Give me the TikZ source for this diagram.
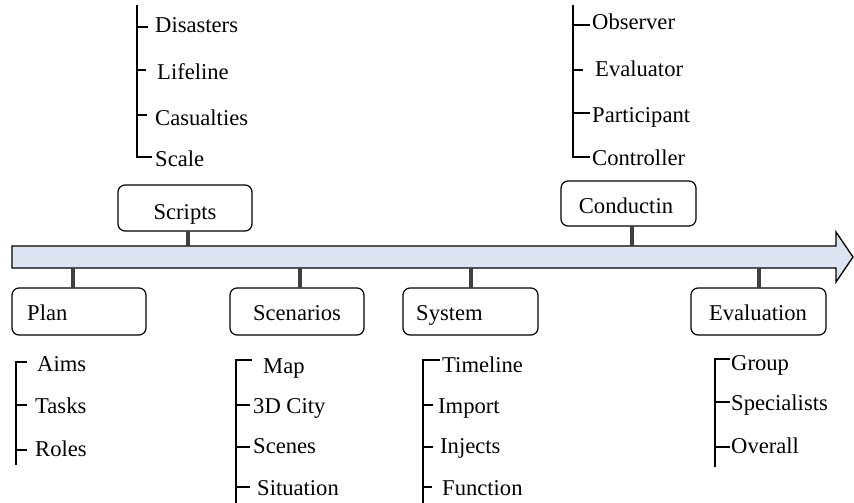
\documentclass[tikz,border=0pt]{standalone}
\usepackage{fontspec}
\setmainfont{Liberation Serif}
\begin{document}
\begin{tikzpicture}[x=1pt,y=-1pt,
  lbl/.style={font=\fontsize{22.6}{26}\selectfont, inner sep=0pt, anchor=base west},
  clbl/.style={font=\fontsize{22.6}{26}\selectfont, inner sep=0pt, anchor=base},
  stagebox/.style={draw=black, line width=1.2pt, rounded corners=7pt, fill=white},
  conn/.style={draw=black!75, line width=4pt},
  tree/.style={draw=black, line width=1.2pt}]
\useasboundingbox (0,0) rectangle (854,503);
\definecolor{arrowfill}{HTML}{DBE4F0}
% timeline arrow
\draw[line width=1.3pt, fill=arrowfill, line join=miter]
  (12,246) -- (836,246) -- (836,232) -- (853,257) -- (836,282) -- (836,268) -- (12,268) -- cycle;
% connector anchor points on the arrow
\coordinate (aScripts) at (188,246);
\coordinate (aCond) at (632,246);
\coordinate (aPlan) at (73,268);
\coordinate (aScen) at (300,268);
\coordinate (aSys) at (471,268);
\coordinate (aEval) at (759,268);
% boxes
\path[stagebox] (118,185) rectangle (252,231); \coordinate (scripts) at (185,231);
\path[stagebox] (561,181) rectangle (696,226); \coordinate (cond) at (628,226);
\path[stagebox] (12,288) rectangle (146,335); \coordinate (plan) at (79,288);
\path[stagebox] (230,288) rectangle (364,335); \coordinate (scen) at (297,288);
\path[stagebox] (403,288) rectangle (538,335); \coordinate (sys) at (470,288);
\path[stagebox] (691,288) rectangle (826,335); \coordinate (eval) at (758,288);
\node[clbl] (tScripts) at (185,219) {Scripts};
\node[clbl] (tCond) at (626,213) {Conductin};
\node[lbl] (tPlan) at (27,320) {Plan};
\node[clbl] (tScen) at (297,320) {Scenarios};
\node[lbl] (tSys) at (416,320) {System};
\node[clbl] (tEval) at (758,320) {Evaluation};
% connectors
\draw[conn] (aScripts |- scripts) -- (aScripts);
\draw[conn] (aCond |- cond) -- (aCond);
\draw[conn] (aPlan) -- (aPlan |- plan);
\draw[conn] (aScen) -- (aScen |- scen);
\draw[conn] (aSys) -- (aSys |- sys);
\draw[conn] (aEval) -- (aEval |- eval);
% Scripts list
\draw[tree] (137,5) -- (137,157) -- (152,157);
\draw[tree] (137,27) -- (148,27);
\draw[tree] (137,70) -- (146,70);
\draw[tree] (137,115) -- (147,115);
\node[lbl] (s1) at (155,33) {Disasters};
\node[lbl] (s2) at (157,79) {Lifeline};
\node[lbl] (s3) at (155,125) {Casualties};
\node[lbl] (s4) at (155,166) {Scale};
% Conductin list
\draw[tree] (573,5) -- (573,157) -- (590,157);
\draw[tree] (573,25) -- (590,25);
\draw[tree] (573,70) -- (583,70);
\draw[tree] (573,113) -- (590,113);
\node[lbl] (c1) at (592,30) {Observer};
\node[lbl] (c2) at (595,77) {Evaluator};
\node[lbl] (c3) at (592,122) {Participant};
\node[lbl] (c4) at (592,165) {Controller};
% Plan list
\draw[tree] (27,362) -- (16,362) -- (16,465);
\draw[tree] (16,405) -- (27,405);
\draw[tree] (16,450) -- (27,450);
\node[lbl] (p1) at (37,371) {Aims};
\node[lbl] (p2) at (35,413) {Tasks};
\node[lbl] (p3) at (35,456) {Roles};
% Scenarios list
\draw[tree] (252,360) -- (236,360) -- (236,503);
\draw[tree] (236,405) -- (250,405);
\draw[tree] (236,447) -- (250,447);
\draw[tree] (236,487) -- (250,487);
\node[lbl] (n1) at (263,373) {Map};
\node[lbl] (n2) at (253,413) {3D City};
\node[lbl] (n3) at (253,453) {Scenes};
\node[lbl] (n4) at (257,495) {Situation};
% System list
\draw[tree] (440,360) -- (423,360) -- (423,503);
\draw[tree] (423,405) -- (433,405);
\draw[tree] (423,447) -- (433,447);
\draw[tree] (423,487) -- (432,487);
\node[lbl] (y1) at (442,372) {Timeline};
\node[lbl] (y2) at (438,413) {Import};
\node[lbl] (y3) at (440,453) {Injects};
\node[lbl] (y4) at (442,495) {Function};
% Evaluation list
\draw[tree] (730,359) -- (715,359) -- (715,467);
\draw[tree] (715,402) -- (730,402);
\draw[tree] (715,447) -- (730,447);
\node[lbl] (e1) at (731,370) {Group};
\node[lbl] (e2) at (731,410) {Specialists};
\node[lbl] (e3) at (731,453) {Overall};
\end{tikzpicture}
\end{document}
